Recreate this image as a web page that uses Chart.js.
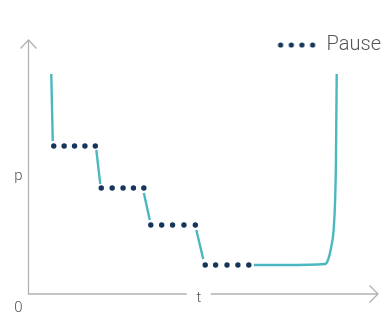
<!DOCTYPE html>
<html>
<head>
<meta charset="utf-8">
<script src="https://cdn.jsdelivr.net/npm/chart.js@4/dist/chart.umd.min.js"></script>
<style>
html,body{margin:0;padding:0;background:#fff;}
#wrap{width:382px;height:313px;position:relative;}
</style>
</head>
<body>
<div id="wrap"><canvas id="c" width="382" height="313"></canvas></div>
<script>
// Scale ranges (data units) and axis arrow ends
const xRange = [0, 353];
const yRange = [0, 229];
const yAxisEnd = 254;

// Axis labels
const xAxisLabel = 't';
const yAxisLabel = 'p';
const originLabel = '0';
const xLabelAt = 172;
const yLabelAt = 118;

// Pressure curve (null = gap between segments)
const curveX = [23, 24.5, null, 68.5, 72.5, null, 116.5, 122.5, null, 169.5, 176.5, null,
  227.5, 260, 299.5, 302.5, 305.8, 308.2, 309.8, 310.5, 310.8, 311.3];
const curveY = [220, 153, null, 144, 110, null, 101, 74, null, 64, 35, null,
  29, 29, 30, 34, 47.3, 64, 97.3, 131, 164, 220];

// Pause points
const pauseLabel = 'Pause';
const pauseX = [25.5, 36, 46.5, 57, 67.5,
  73.5, 84.5, 95.5, 106, 116.5,
  123.5, 134.5, 145.5, 157, 168.5,
  178.5, 189, 200.5, 211.5, 222.5];
const pauseY = [148, 148, 148, 148, 148,
  106, 106, 106, 106, 106,
  69, 69, 69, 69, 69,
  29, 29, 29, 29, 29];

const TEAL = '#4ab8be';
const NAVY = '#15355a';
const AXIS = '#b2b2b2';
const TEXT = '#555555';

const curveData = curveX.map((x, i) => ({x: x === null ? (curveX[i-1] + 1) : x, y: curveY[i]}));
const pauseData = pauseX.map((x, i) => ({x, y: pauseY[i]}));

// legend symbol: four dots
const sym = document.createElement('canvas');
sym.width = 40; sym.height = 8;
(function(){
  const c = sym.getContext('2d');
  c.fillStyle = NAVY;
  [4, 14.7, 25.3, 36].forEach(cx => { c.beginPath(); c.arc(cx, 4, 2.6, 0, Math.PI*2); c.fill(); });
})();

const axesPlugin = {
  id: 'arrowAxes',
  beforeDatasetsDraw(chart) {
    const {ctx, scales: {x, y}} = chart;
    const x0 = x.getPixelForValue(xRange[0]);
    const x1 = x.getPixelForValue(xRange[1]);
    const y0 = y.getPixelForValue(yRange[0]);
    const y1 = y.getPixelForValue(yAxisEnd);
    const tx = x.getPixelForValue(xLabelAt);
    const py = y.getPixelForValue(yLabelAt);
    ctx.save();
    ctx.strokeStyle = AXIS;
    ctx.lineWidth = 1.3;
    ctx.beginPath();
    // y axis
    ctx.moveTo(x0, y0); ctx.lineTo(x0, y1);
    ctx.moveTo(x0 - 8, y1 + 8.5); ctx.lineTo(x0, y1); ctx.lineTo(x0 + 8, y1 + 8.5);
    // x axis with gap for label
    ctx.moveTo(x0 - 0.6, y0); ctx.lineTo(tx - 12, y0);
    ctx.moveTo(tx + 12, y0); ctx.lineTo(x1, y0);
    ctx.moveTo(x1 - 8.5, y0 - 8.5); ctx.lineTo(x1, y0); ctx.lineTo(x1 - 8.5, y0 + 8.5);
    ctx.stroke();
    ctx.fillStyle = TEXT;
    ctx.font = '300 15px Roboto';
    ctx.textAlign = 'center';
    ctx.textBaseline = 'alphabetic';
    ctx.fillText(xAxisLabel, tx, y0 + 8);
    ctx.fillText(yAxisLabel, x0 - 10, py + 4);
    ctx.fillText(originLabel, x0 - 10, y0 + 18);
    ctx.restore();
  }
};

new Chart(document.getElementById('c'), {
  type: 'line',
  data: {
    datasets: [
      {
        label: 'curve',
        data: curveData,
        borderColor: TEAL,
        borderWidth: 2.4,
        pointRadius: 0,
        fill: false,
        spanGaps: false,
        cubicInterpolationMode: 'monotone',
        order: 2
      },
      {
        label: pauseLabel,
        data: pauseData,
        showLine: false,
        pointRadius: 2.7,
        pointBackgroundColor: NAVY,
        pointBorderWidth: 0,
        order: 1
      }
    ]
  },
  plugins: [axesPlugin],
  options: {
    responsive: false,
    animation: false,
    events: [],
    layout: { padding: { left: 28.5, right: 1, top: 35, bottom: 19 } },
    scales: {
      x: { type: 'linear', min: xRange[0], max: xRange[1], display: false },
      y: { type: 'linear', min: yRange[0], max: yRange[1], display: false }
    },
    plugins: {
      tooltip: { enabled: false },
      legend: {
        display: true,
        position: 'top',
        align: 'end',
        labels: {
          usePointStyle: true,
          pointStyleWidth: 40,
          padding: 0,
          color: TEXT,
          font: { family: 'Roboto', size: 20, weight: '300' },
          generateLabels: () => [{
            text: pauseLabel, pointStyle: sym, fillStyle: NAVY, strokeStyle: NAVY,
            lineWidth: 0, hidden: false, datasetIndex: 1, fontColor: TEXT
          }]
        }
      }
    }
  }
});
</script>
</body>
</html>
